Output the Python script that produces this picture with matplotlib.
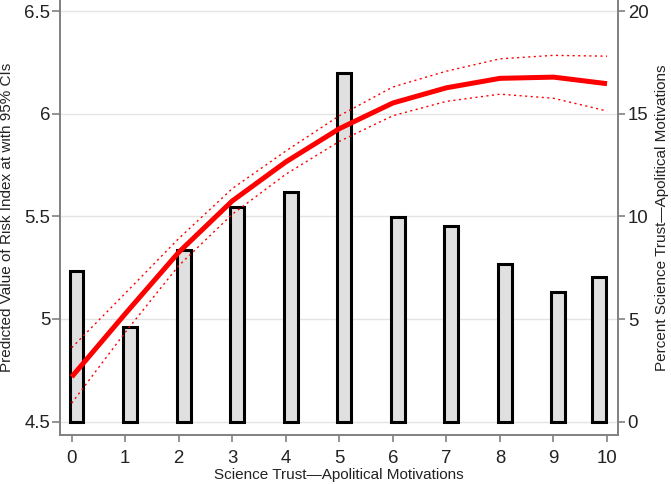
import numpy as np
import matplotlib
matplotlib.use("Agg")
import matplotlib.pyplot as plt

plt.rcParams['font.family'] = ['Liberation Sans', 'DejaVu Sans']

# category values (scale 0..10)
trust = [0, 1, 2, 3, 4, 5, 6, 7, 8, 9, 10]
# percent of respondents at each value (right axis)
percent = [7.36, 4.61, 8.38, 10.44, 11.2, 16.97, 9.97, 9.55, 7.7, 6.31, 7.07]
# predicted risk index and 95% CI (left axis)
pred = [4.718, 5.025, 5.325, 5.575, 5.765, 5.927, 6.052, 6.126, 6.172, 6.178, 6.146]
upper = [4.86, 5.125, 5.392, 5.635, 5.818, 5.99, 6.13, 6.207, 6.267, 6.284, 6.28]
lower = [4.59, 4.935, 5.26, 5.51, 5.705, 5.865, 5.99, 6.06, 6.095, 6.075, 6.013]

gray = '#808080'
txt = '#222222'

fig = plt.figure(figsize=(6.71, 4.84), dpi=100)
ax = fig.add_axes([60 / 671, 1 - 435 / 484, 558 / 671, 435 / 484])
ax2 = ax.twinx()

# bars on right (percent) scale
bw = 0.26
lefts = [min(t - 0.04, 9.98 - bw) for t in trust]
ax.bar(lefts, percent, width=bw, align='edge', color='#e0e0e0',
       edgecolor='black', linewidth=2.2, zorder=2)
ax.set_ylim(-0.648, 20.536)
ax.set_yticks([0, 5, 10, 15, 20])
ax.yaxis.tick_right()
ax.yaxis.set_label_position('right')
ax.grid(axis='y', color='#e4e4e4', linewidth=1.0, zorder=0)
ax.set_axisbelow(True)
ax.set_xlim(-0.218, 10.205)
ax.set_xticks(trust)

# predicted line and CI on left scale
ax2.plot(trust, pred, color='red', linewidth=3.6, solid_capstyle='butt', zorder=3)
ax2.plot(trust, upper, color='red', linewidth=1.0, linestyle=(0, (1.5, 2.5)), zorder=3)
ax2.plot(trust, lower, color='red', linewidth=1.0, linestyle=(0, (1.5, 2.5)), zorder=3)
ax2.set_ylim(4.435, 6.5536)
ax2.set_yticks([4.5, 5, 5.5, 6, 6.5])
ax2.set_yticklabels(['4.5', '5', '5.5', '6', '6.5'])
ax2.yaxis.tick_left()
ax2.yaxis.set_label_position('left')

for s in ax2.spines.values():
    s.set_visible(False)
ax.spines['top'].set_visible(False)
for k in ['left', 'right', 'bottom']:
    ax.spines[k].set_color(gray)
    ax.spines[k].set_linewidth(1.4)

ax.tick_params(axis='y', right=True, left=False, length=5, width=1.2, color=gray,
               labelsize=13.4, labelcolor=txt, pad=2)
ax.tick_params(axis='x', length=5, width=1.2, color=gray, labelsize=13.4,
               labelcolor=txt, pad=6)
ax2.tick_params(axis='y', left=True, right=False, length=6, width=1.2, color=gray,
                labelsize=13.4, labelcolor=txt, pad=1)

ax.set_xlabel('Science Trust\u2014Apolitical Motivations', fontsize=11, color=txt)
ax.xaxis.set_label_coords(0.5, -0.077)
ax2.set_ylabel('Predicted Value of Risk Index at with 95% CIs', fontsize=11, color=txt)
ax2.yaxis.set_label_coords(-0.083, 0.5)
ax.set_ylabel('Percent Science Trust\u2014Apolitical Motivations', fontsize=11,
              color=txt, rotation=90)
ax.yaxis.set_label_coords(1.066, 0.5)

fig.savefig('out.png', dpi=100)
